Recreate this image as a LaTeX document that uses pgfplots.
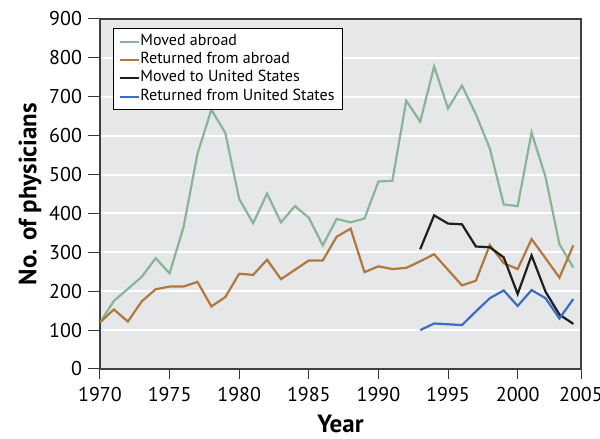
\documentclass[border=0pt]{standalone}
\usepackage{fontspec}
\setmainfont{PT Sans}
\usepackage{pgfplots}
\pgfplotsset{compat=1.18}
\definecolor{cgreen}{RGB}{137,180,152}
\definecolor{cbrown}{RGB}{177,120,62}
\definecolor{cblue}{RGB}{62,108,192}
\definecolor{cblack}{RGB}{30,30,30}
\definecolor{cbg}{RGB}{230,231,233}
\begin{document}
\begin{tikzpicture}
\useasboundingbox (-50pt,-35pt) rectangle (250pt,184.5pt);
\begin{axis}[
  scale only axis,
  width=240.5pt, height=175pt,
  at={(0,0)}, anchor=south west,
  xmin=1970, xmax=2004.55,
  ymin=0, ymax=900,
  xtick={1970,1975,1980,1985,1990,1995,2000,2004.55},
  xticklabels={1970,1975,1980,1985,1990,1995,2000,2005},
  ytick={0,100,...,900},
  tick align=outside,
  tick pos=left,
  major tick length=5pt,
  ytick style={/pgfplots/major tick length=6pt},
  tick style={cblack!90, line width=0.5pt},
  axis line style={cblack!85, line width=0.6pt},
  axis background/.style={fill=cbg},
  ymajorgrids,
  grid style={white, line width=1pt},
  /pgf/number format/assume math mode=true,
  ticklabel style={font=\fontsize{10}{12}\selectfont},
  xticklabel style={yshift=-0.5pt},
  yticklabel style={xshift=-0.5pt},
  xlabel={Year},
  ylabel={No. of physicians},
  xlabel style={font=\fontsize{12.5}{15}\selectfont\bfseries, at={(axis description cs:0.5,-0.158)}, anchor=center},
  ylabel style={font=\fontsize{12.5}{15}\selectfont\bfseries, at={(axis description cs:-0.1455,0.5)}, anchor=center},
  legend cell align=left,
  legend style={at={(axis description cs:0.027,0.974)}, anchor=north west,
    draw=black, line width=0.6pt, fill=white, font=\fontsize{8}{9}\selectfont,
    inner xsep=2.5pt, inner ysep=2.2pt, row sep=0.3pt,
    nodes={inner sep=0.4pt, text height=5.8pt, text depth=2.2pt}},
  legend image code/.code={\draw[#1, line width=1pt] (0pt,0pt) -- (9.5pt,0pt);},
  every axis plot/.append style={line width=1.1pt},
]
\addplot[cgreen] coordinates {
(1970,120) (1971,175) (1972,206) (1973,237) (1974,285) (1975,246) (1976,365)
(1977,553) (1978,667) (1979,607) (1980,437) (1981,375) (1982,451) (1983,377)
(1984,419) (1985,389) (1986,318) (1987,386) (1988,377) (1989,387) (1990,482)
(1991,484) (1992,690) (1993,636) (1994,778) (1995,670) (1996,729) (1997,655)
(1998,567) (1999,423) (2000,419) (2001,608) (2002,494) (2003,321) (2004,261)};
\addlegendentry{\makebox[98pt][l]{Moved abroad}}
\addplot[cbrown] coordinates {
(1970,120) (1971,153) (1972,122) (1973,174) (1974,205) (1975,212) (1976,212)
(1977,224) (1978,161) (1979,185) (1980,245) (1981,242) (1982,281) (1983,231)
(1984,255) (1985,279) (1986,279) (1987,340) (1988,361) (1989,249) (1990,264)
(1991,257) (1992,260) (1993,277) (1994,295) (1995,255) (1996,215) (1997,227)
(1998,319) (1999,272) (2000,257) (2001,334) (2002,285) (2003,235) (2004,318)};
\addlegendentry{Returned from abroad}
\addplot[cblack] coordinates {
(1993,308) (1994,395) (1995,374) (1996,372) (1997,315) (1998,313) (1999,287)
(2000,193) (2001,292) (2002,199) (2003,140) (2004,116)};
\addlegendentry{Moved to United States}
\addplot[cblue] coordinates {
(1993,100) (1994,117) (1995,115) (1996,113) (1997,148) (1998,182) (1999,202)
(2000,162) (2001,203) (2002,182) (2003,130) (2004,180)};
\addlegendentry{Returned from United States}
\end{axis}
\end{tikzpicture}
\end{document}
